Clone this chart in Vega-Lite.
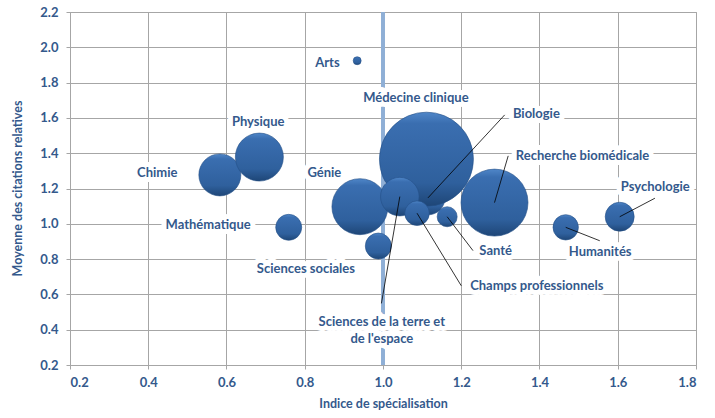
{
  "$schema": "https://vega.github.io/schema/vega-lite/v6.json",
  "width": 626,
  "height": 353,
  "autosize": {"type": "none"},
  "padding": {"left": 70, "top": 12, "right": 19, "bottom": 53},
  "background": "white",
  "config": {
    "view": {"stroke": "#A6A6A6", "strokeWidth": 1},
    "font": "Lato",
    "axis": {
      "labelFont": "Lato", "labelFontWeight": "bold", "labelFontSize": 13, "labelColor": "#34598C",
      "titleFont": "Lato", "titleFontWeight": "bold", "titleFontSize": 12.5, "titleColor": "#34598C",
      "gridColor": "#A6A6A6", "gridOpacity": 1, "domainColor": "#A6A6A6", "tickColor": "#A6A6A6",
      "tickSize": 4, "gridWidth": 1, "grid": true, "labelOverlap": false
    }
  },
  "data": {
    "values": [
      {"name": "Arts", "label": "Arts", "x": 0.934, "y": 1.924, "w": 16, "lx": 0.858, "ly": 1.911},
      {"name": "Chimie", "label": "Chimie", "x": 0.583, "y": 1.277, "w": 441, "lx": 0.423, "ly": 1.287},
      {"name": "Physique", "label": "Physique", "x": 0.684, "y": 1.378, "w": 576, "lx": 0.681, "ly": 1.579},
      {"name": "Mathématique", "label": "Mathématique", "x": 0.759, "y": 0.98, "w": 169, "lx": 0.553, "ly": 0.994},
      {"name": "Génie", "label": "Génie", "x": 0.941, "y": 1.097, "w": 784, "lx": 0.85, "ly": 1.29},
      {"name": "Biologie", "label": "Biologie", "x": 1.115, "y": 1.147, "w": 289, "lx": 1.392, "ly": 1.621, "ex": 1.311, "ey": 1.617},
      {"name": "Médecine clinique", "label": "Médecine clinique", "x": 1.111, "y": 1.366, "w": 2209, "lx": 1.084, "ly": 1.712},
      {"name": "Recherche biomédicale", "label": "Recherche biomédicale", "x": 1.285, "y": 1.12, "w": 1122, "lx": 1.51, "ly": 1.385, "ex": 1.32, "ey": 1.385},
      {"name": "Sciences de la terre et de l'espace", "label": "Sciences de la terre et\nde l'espace", "x": 1.043, "y": 1.154, "w": 372, "lx": 0.997, "ly": 0.446, "ex": 0.996, "ey": 0.549},
      {"name": "Sciences sociales", "label": "Sciences sociales", "x": 0.988, "y": 0.874, "w": 169, "lx": 0.803, "ly": 0.742},
      {"name": "Champs professionnels", "label": "Champs professionnels", "x": 1.087, "y": 1.06, "w": 151, "lx": 1.393, "ly": 0.649, "ex": 1.2, "ey": 0.649},
      {"name": "Santé", "label": "Santé", "x": 1.164, "y": 1.04, "w": 100, "lx": 1.288, "ly": 0.848, "ex": 1.23, "ey": 0.848},
      {"name": "Humanités", "label": "Humanités", "x": 1.467, "y": 0.98, "w": 161, "lx": 1.555, "ly": 0.842, "ex": 1.554, "ey": 0.904},
      {"name": "Psychologie", "label": "Psychologie", "x": 1.605, "y": 1.04, "w": 210, "lx": 1.696, "ly": 1.207, "ex": 1.695, "ey": 1.145}
    ]
  },
  "encoding": {
    "x": {
      "field": "x",
      "type": "quantitative",
      "scale": {"domain": [0.2, 1.8], "nice": false, "zero": false},
      "axis": {
        "values": [0.2, 0.4, 0.6, 0.8, 1.0, 1.2, 1.4, 1.6, 1.8],
        "format": ".1f",
        "title": "Indice de spécialisation",
        "grid": true,
        "labelPadding": 7,
        "titleX": 313,
        "titleY": 38,
        "titleBaseline": "middle"
      }
    },
    "y": {
      "field": "y",
      "type": "quantitative",
      "scale": {"domain": [0.2, 2.2], "nice": false, "zero": false},
      "axis": {
        "values": [0.2, 0.4, 0.6, 0.8, 1.0, 1.2, 1.4, 1.6, 1.8, 2.0, 2.2],
        "format": ".1f",
        "title": "Moyenne des citations relatives",
        "grid": true,
        "labelOverlap": false,
        "labelPadding": 8,
        "titleX": -53,
        "titleY": 176,
        "titleBaseline": "middle",
        "titleAlign": "center"
      }
    }
  },
  "layer": [
    {
      "mark": {"type": "rule", "color": "#8FAFD6", "strokeWidth": 3},
      "encoding": {
        "x": {"datum": 1, "type": "quantitative"},
        "y": {"datum": 0.2, "type": "quantitative"},
        "y2": {"datum": 2.2}
      }
    },
    {
      "mark": {
        "type": "point",
        "filled": true,
        "opacity": 1,
        "stroke": "#244F86",
        "strokeWidth": 0.6,
        "fill": {
          "gradient": "linear",
          "x1": 0, "y1": 0, "x2": 0, "y2": 1,
          "stops": [
            {"offset": 0, "color": "#4F86C8"},
            {"offset": 0.12, "color": "#3A6EB0"},
            {"offset": 0.75, "color": "#2F609D"},
            {"offset": 1, "color": "#1E4677"}
          ]
        }
      },
      "encoding": {
        "size": {"field": "w", "type": "quantitative", "scale": {"domain": [0, 2209], "range": [0, 8836], "zero": true}, "legend": null}
      }
    },
    {
      "transform": [{"filter": "isValid(datum.ex)"}],
      "mark": {"type": "rule", "color": "#000000", "strokeWidth": 0.8},
      "encoding": {
        "x2": {"field": "ex"},
        "y2": {"field": "ey"}
      }
    },
    {
      "mark": {"type": "text", "font": "Lato", "fontWeight": "bold", "fontSize": 13, "color": "white", "stroke": "white", "strokeWidth": 10, "strokeJoin": "round", "lineBreak": "\n", "lineHeight": 17, "align": "center", "baseline": "middle"},
      "encoding": {
        "x": {"field": "lx", "type": "quantitative"},
        "y": {"field": "ly", "type": "quantitative"},
        "text": {"field": "label"}
      }
    },
    {
      "mark": {"type": "text", "font": "Lato", "fontWeight": "bold", "fontSize": 13, "color": "#34598C", "lineBreak": "\n", "lineHeight": 17, "align": "center", "baseline": "middle"},
      "encoding": {
        "x": {"field": "lx", "type": "quantitative"},
        "y": {"field": "ly", "type": "quantitative"},
        "text": {"field": "label"}
      }
    }
  ]
}
